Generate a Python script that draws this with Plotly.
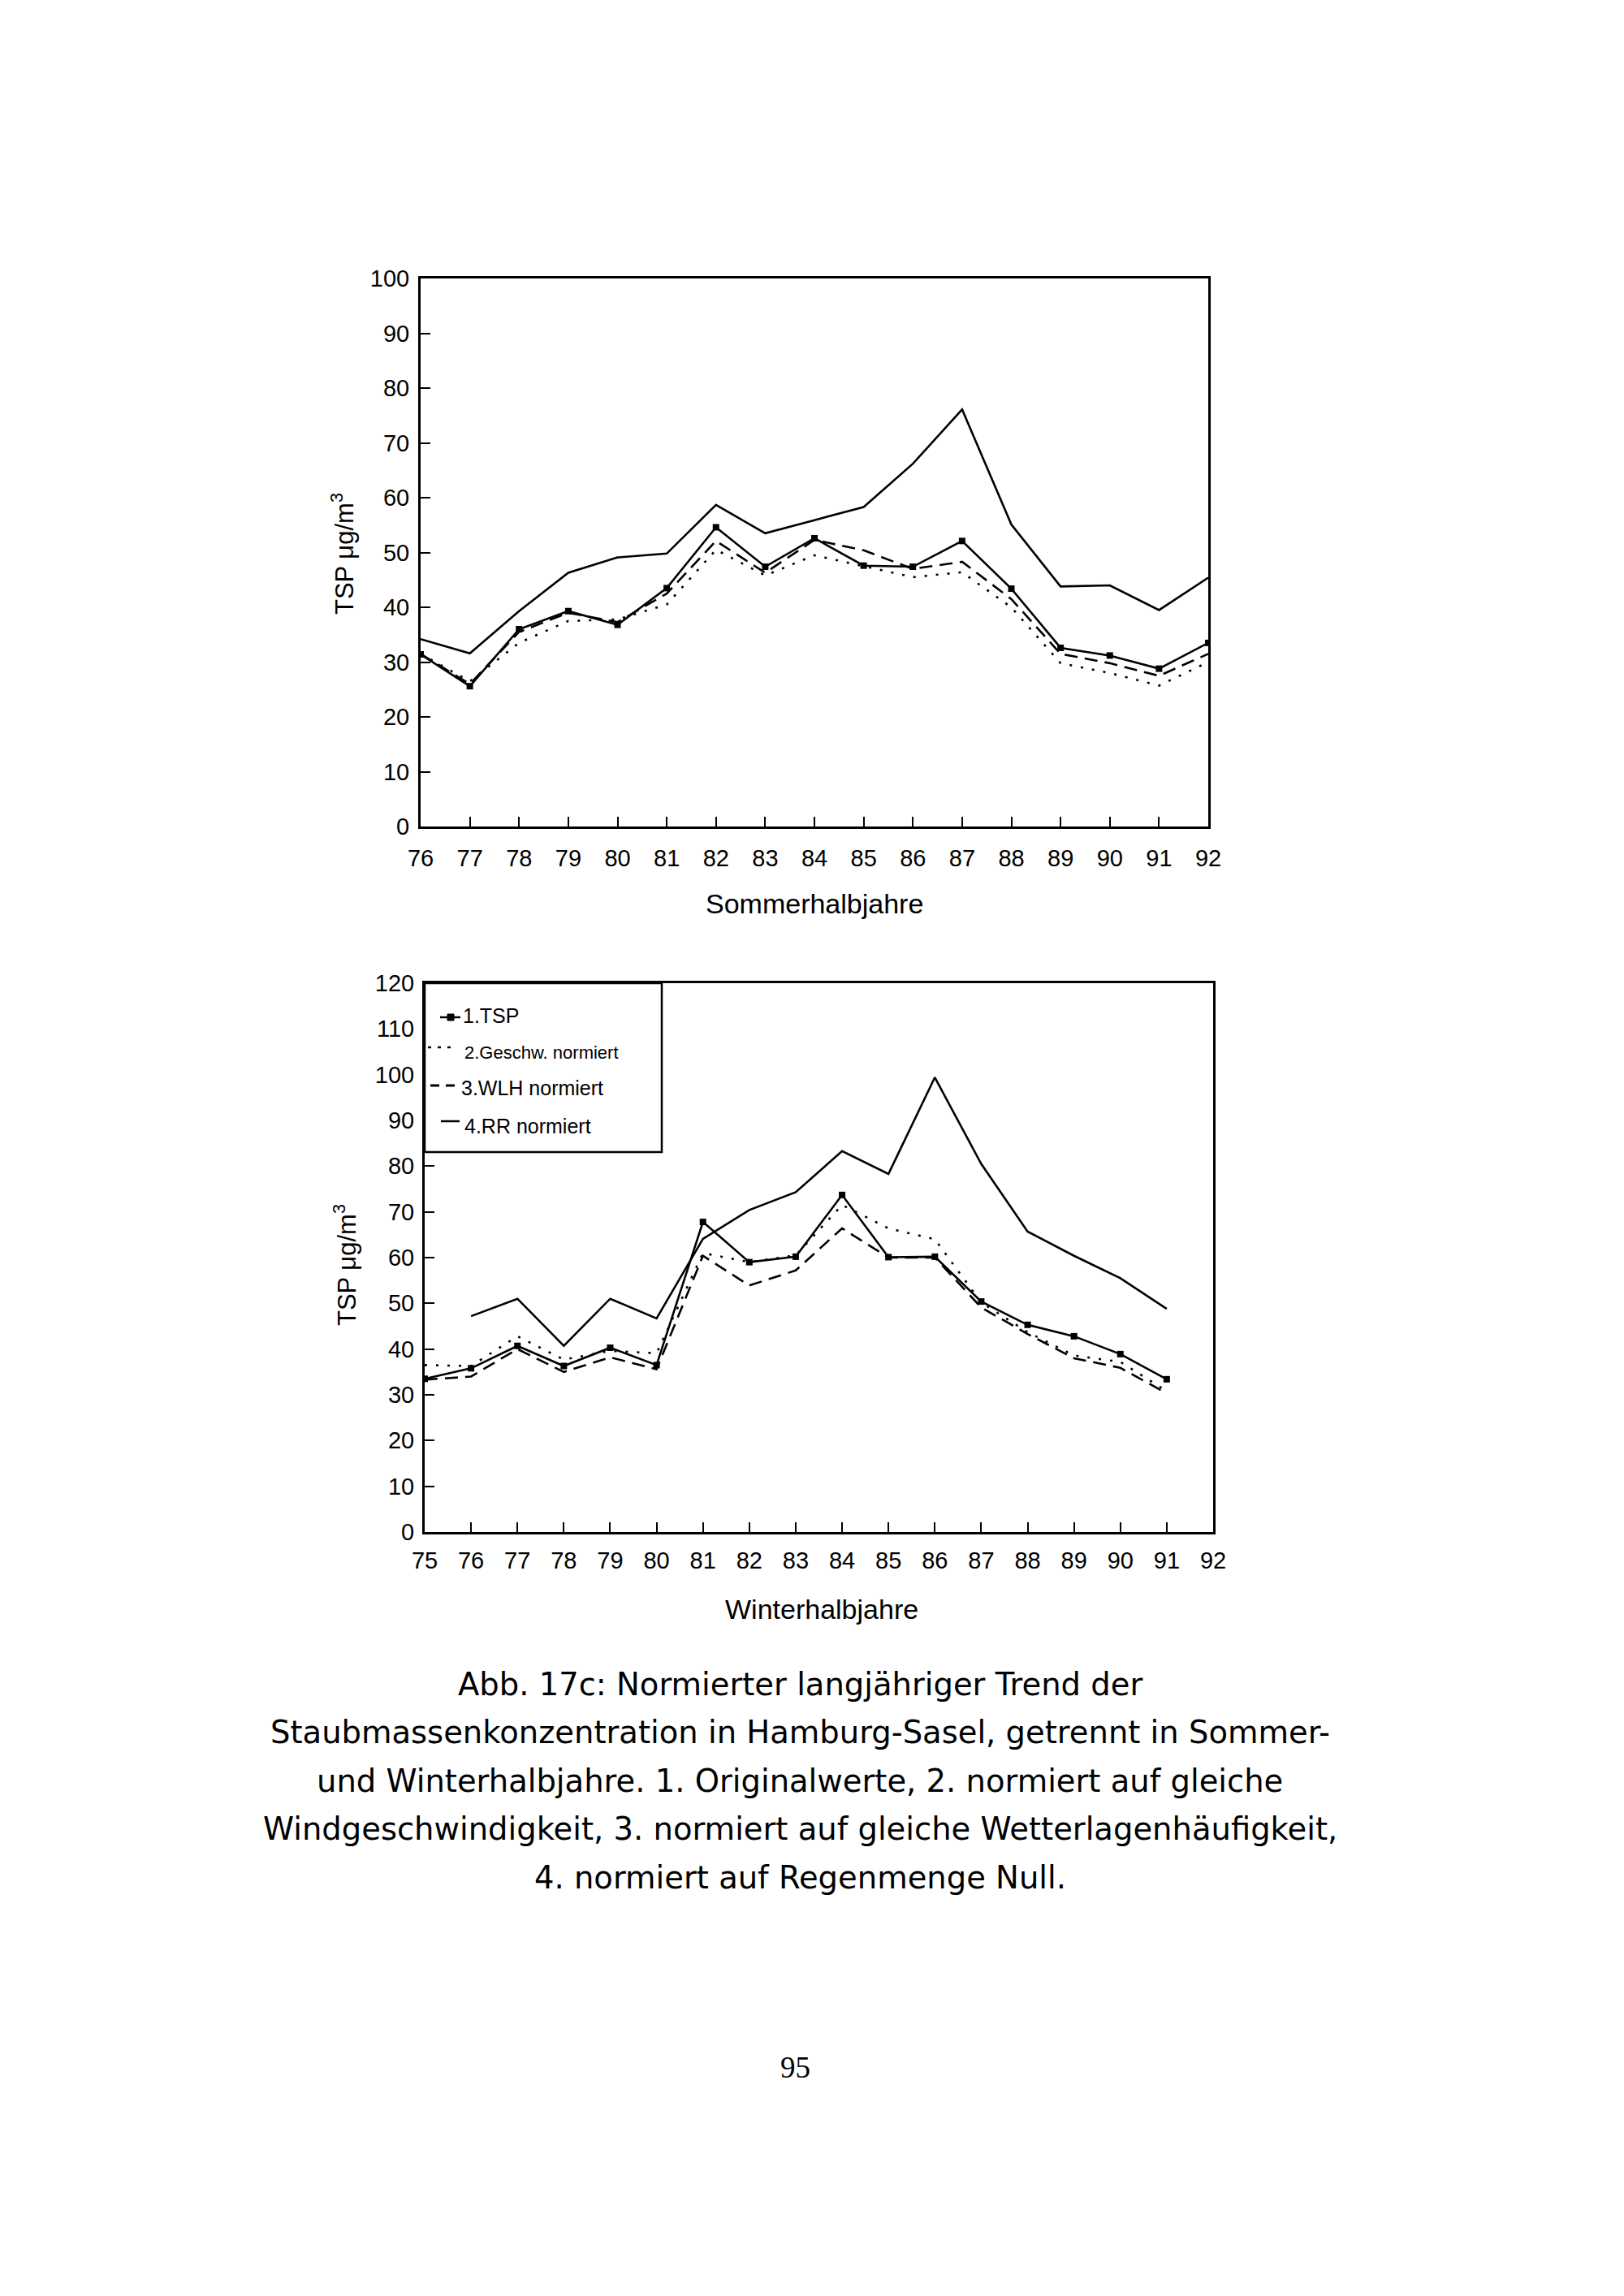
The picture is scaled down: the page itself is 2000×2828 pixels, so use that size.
import plotly.graph_objects as go

W, H = 2000, 2828

# ---------------- data ----------------
sommer_years = [76, 77, 78, 79, 80, 81, 82, 83, 84, 85, 86, 87, 88, 89, 90, 91, 92]
sommer_tsp = [31.4, 25.6, 36.0, 39.3, 36.8, 43.5, 54.6, 47.4, 52.6, 47.6, 47.4, 52.1, 43.4, 32.6, 31.2, 28.8, 33.5]
sommer_geschw = [31.5, 26.5, 33.5, 37.5, 37.8, 40.5, 50.5, 45.8, 49.5, 47.5, 45.5, 46.4, 40.0, 29.8, 28.0, 25.7, 30.0]
sommer_wlh = [31.5, 26.0, 35.5, 39.0, 37.3, 42.5, 52.1, 46.3, 52.3, 50.4, 47.0, 48.3, 41.5, 31.5, 29.8, 27.5, 31.5]
sommer_rr = [34.2, 31.6, 39.3, 46.3, 49.1, 49.8, 58.7, 53.5, 55.9, 58.3, 66.2, 76.1, 55.1, 43.8, 44.0, 39.5, 45.4]

winter_years = [75, 76, 77, 78, 79, 80, 81, 82, 83, 84, 85, 86, 87, 88, 89, 90, 91]
winter_tsp = [33.5, 35.8, 40.7, 36.3, 40.3, 36.5, 67.8, 59.0, 60.2, 73.7, 60.1, 60.2, 50.4, 45.3, 42.8, 38.9, 33.4]
winter_geschw = [36.5, 36.3, 42.8, 37.7, 39.6, 39.1, 61.0, 59.0, 60.5, 71.5, 66.4, 64.0, 50.2, 43.7, 38.6, 37.2, 30.8]
winter_wlh = [33.3, 34.0, 40.0, 35.0, 38.2, 35.6, 60.4, 53.9, 57.2, 66.4, 60.0, 60.0, 49.1, 43.3, 38.0, 35.9, 30.3]
winter_rr = [None, 47.2, 51.0, 40.7, 51.0, 46.7, 64.1, 70.4, 74.3, 83.3, 78.3, 99.4, 80.5, 65.7, 60.4, 55.5, 48.8]

series_names = ["1.TSP", "2.Geschw. normiert", "3.WLH normiert", "4.RR normiert"]
y_title = "TSP \u03bcg/m<sup>3</sup>"
x_title_top = "Sommerhalbjahre"
x_title_bottom = "Winterhalbjahre"
caption_lines = [
    "Abb. 17c: Normierter langj\u00e4hriger Trend der",
    "Staubmassenkonzentration in Hamburg-Sasel, getrennt in Sommer-",
    "und Winterhalbjahre. 1. Originalwerte, 2. normiert auf gleiche",
    "Windgeschwindigkeit, 3. normiert auf gleiche Wetterlagenh\u00e4ufigkeit,",
    "4. normiert auf Regenmenge Null.",
]
page_number = "95"

# ---------------- helpers ----------------
OFF = 8  # default body margin of the html page

def px(x):
    return (x - OFF) / W

def py(y):
    return 1 - (y - OFF) / H

FONT = "Liberation Sans, Arial, sans-serif"
LW = 2.6

def add_series(fig, xs, tsp, ges, wlh, rr, xa, ya):
    fig.add_trace(go.Scatter(x=xs, y=rr, mode="lines", name=series_names[3],
                             line=dict(color="black", width=LW), xaxis=xa, yaxis=ya,
                             connectgaps=False, showlegend=False))
    fig.add_trace(go.Scatter(x=xs, y=ges, mode="lines", name=series_names[1],
                             line=dict(color="black", width=LW, dash="3px,11px"),
                             xaxis=xa, yaxis=ya, showlegend=False))
    fig.add_trace(go.Scatter(x=xs, y=wlh, mode="lines", name=series_names[2],
                             line=dict(color="black", width=LW, dash="16px,9px"),
                             xaxis=xa, yaxis=ya, showlegend=False))
    fig.add_trace(go.Scatter(x=xs, y=tsp, mode="lines+markers", name=series_names[0],
                             line=dict(color="black", width=LW),
                             marker=dict(symbol="square", size=8, color="black"),
                             xaxis=xa, yaxis=ya, showlegend=False))

fig = go.Figure()
add_series(fig, sommer_years, sommer_tsp, sommer_geschw, sommer_wlh, sommer_rr, "x", "y")
add_series(fig, winter_years, winter_tsp, winter_geschw, winter_wlh, winter_rr, "x2", "y2")

axis_common = dict(showline=True, linecolor="black", linewidth=3, mirror=True,
                   showgrid=False, zeroline=False, ticks="inside", ticklen=12,
                   tickwidth=2, tickcolor="black", automargin=False,
                   tickfont=dict(family=FONT, size=29, color="black"))

fig.update_layout(
    width=W, height=H,
    margin=dict(l=0, r=0, t=0, b=0, pad=0, autoexpand=False),
    paper_bgcolor="white", plot_bgcolor="white",
    showlegend=False,
    xaxis=dict(domain=[px(518), px(1488)], range=[76, 92], tickmode="linear",
               tick0=76, dtick=1, anchor="y", ticklabelstandoff=11, **axis_common),
    yaxis=dict(domain=[py(1018), py(343)], range=[0, 100], tickmode="linear",
               tick0=0, dtick=10, anchor="x", ticklabelstandoff=5, **axis_common),
    xaxis2=dict(domain=[px(523), px(1494)], range=[75, 92], tickmode="linear",
                tick0=75, dtick=1, anchor="y2", ticklabelstandoff=7, **axis_common),
    yaxis2=dict(domain=[py(1887), py(1211)], range=[0, 120], tickmode="linear",
                tick0=0, dtick=10, anchor="x2", ticklabelstandoff=4, **axis_common),
)

annotations = []
# axis titles
annotations.append(dict(x=px(1003), y=py(1113), xref="paper", yref="paper",
                        text=x_title_top, showarrow=False, xanchor="center", yanchor="middle",
                        font=dict(family=FONT, size=34, color="black")))
annotations.append(dict(x=px(1012), y=py(1982), xref="paper", yref="paper",
                        text=x_title_bottom, showarrow=False, xanchor="center", yanchor="middle",
                        font=dict(family=FONT, size=34, color="black")))
annotations.append(dict(x=px(422), y=py(682), xref="paper", yref="paper",
                        text=y_title, showarrow=False, textangle=-90,
                        xanchor="center", yanchor="middle",
                        font=dict(family=FONT, size=31, color="black")))
annotations.append(dict(x=px(425), y=py(1558), xref="paper", yref="paper",
                        text=y_title, showarrow=False, textangle=-90,
                        xanchor="center", yanchor="middle",
                        font=dict(family=FONT, size=31, color="black")))

# caption
cap_y = [2074, 2133, 2193, 2252, 2312]
for line, yy in zip(caption_lines, cap_y):
    annotations.append(dict(x=px(985), y=py(yy), xref="paper", yref="paper",
                            text=line, showarrow=False, xanchor="center", yanchor="middle",
                            font=dict(family="DejaVu Sans, sans-serif", size=38.5, color="black")))

annotations.append(dict(x=px(979), y=py(2546), xref="paper", yref="paper",
                        text=page_number, showarrow=False, xanchor="center", yanchor="middle",
                        font=dict(family="Liberation Serif, Times New Roman, serif", size=37,
                                  color="black")))

# legend (drawn manually inside the lower chart)
leg_text_x = [568, 570, 566, 570]
leg_text_y = [1251, 1296, 1340, 1387]
leg_size = [25, 22, 25, 25]
for name, tx, ty, fs in zip(series_names, leg_text_x, leg_text_y, leg_size):
    annotations.append(dict(x=px(tx), y=py(ty), xref="paper", yref="paper",
                            text=name, showarrow=False, xanchor="left", yanchor="middle",
                            font=dict(family=FONT, size=fs, color="black")))

shapes = []
shapes.append(dict(type="rect", xref="paper", yref="paper",
                   x0=px(523), x1=px(815), y0=py(1419), y1=py(1211),
                   line=dict(color="black", width=2.5), fillcolor="white", layer="above"))
# 1.TSP sample
shapes.append(dict(type="line", xref="paper", yref="paper",
                   x0=px(542), x1=px(567), y0=py(1253), y1=py(1253),
                   line=dict(color="black", width=2.5)))
shapes.append(dict(type="rect", xref="paper", yref="paper",
                   x0=px(551), x1=px(559), y0=py(1257), y1=py(1249),
                   line=dict(color="black", width=1), fillcolor="black"))
# 2.Geschw sample
shapes.append(dict(type="line", xref="paper", yref="paper",
                   x0=px(527), x1=px(562), y0=py(1290), y1=py(1290),
                   line=dict(color="black", width=2.5, dash="4px,8px")))
# 3.WLH sample
shapes.append(dict(type="line", xref="paper", yref="paper",
                   x0=px(530), x1=px(564), y0=py(1337), y1=py(1337),
                   line=dict(color="black", width=3, dash="11px,8px")))
# 4.RR sample
shapes.append(dict(type="line", xref="paper", yref="paper",
                   x0=px(543), x1=px(566), y0=py(1381), y1=py(1381),
                   line=dict(color="black", width=2.5)))

fig.update_layout(annotations=annotations, shapes=shapes)

fig.write_html("out.html")
